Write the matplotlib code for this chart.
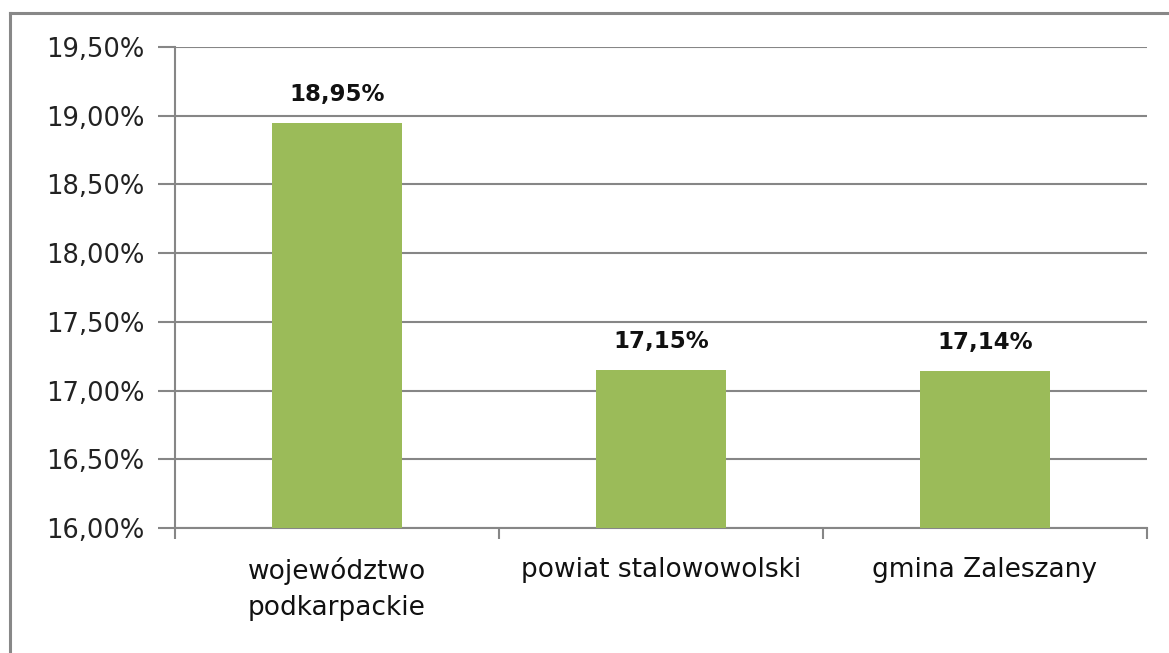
import matplotlib

matplotlib.use("Agg")
import matplotlib.pyplot as plt
from matplotlib.lines import Line2D
from matplotlib.ticker import FuncFormatter, MultipleLocator

plt.rcParams["font.family"] = ["DejaVu Sans"]

categories = ["województwo\npodkarpackie", "powiat stalowowolski", "gmina Zaleszany"]
values = [18.95, 17.15, 17.14]
value_labels = ["18,95%", "17,15%", "17,14%"]

_GRID = "#868686"
_GREEN = "#9bbb59"

fig = plt.figure(figsize=(11.69, 6.53), dpi=100)
ax = fig.add_axes([175 / 1169, 1 - 528 / 653, (1147 - 175) / 1169, (528 - 47) / 653])

x = list(range(len(categories)))
ax.bar(x, [v - 16.0 for v in values], bottom=16.0, width=0.4, color=_GREEN, zorder=3)
for xi, v, lab in zip(x, values, value_labels):
    ax.text(xi, v + 0.16, lab, ha="center", va="baseline", fontsize=16.5,
            fontweight="bold", color="#111111")

ax.set_xlim(-0.5, len(categories) - 0.5)
ax.set_ylim(16.0, 19.5)
ax.yaxis.set_major_locator(MultipleLocator(0.5))
ax.yaxis.set_major_formatter(FuncFormatter(lambda v, _: f"{v:.2f}%".replace(".", ",")))
ax.grid(axis="y", color=_GRID, linewidth=1.5, zorder=0)

ax.set_xticks([-0.5, 0.5, 1.5, 2.5], minor=False)
ax.set_xticklabels([])
ax.set_xticks(x, minor=True)
ax.set_xticklabels(categories, minor=True, fontsize=19, color="#111111", linespacing=1.5)
ax.tick_params(axis="x", which="minor", length=0, pad=21)
ax.tick_params(axis="x", which="major", length=8, width=1.5, color=_GRID)
ax.tick_params(axis="y", length=12, width=1.5, color=_GRID, labelsize=18.5,
               labelcolor="#222222", pad=10)

for side in ("top", "right"):
    ax.spines[side].set_visible(False)
for side in ("left", "bottom"):
    ax.spines[side].set_color(_GRID)
    ax.spines[side].set_linewidth(1.5)

# outer chart frame (only top and left edges visible in the crop)
fig.add_artist(Line2D([10 / 1169, 1.0], [1 - 13 / 653] * 2, transform=fig.transFigure,
                      color="#888888", linewidth=2.2))
fig.add_artist(Line2D([10 / 1169] * 2, [0.0, 1 - 13 / 653], transform=fig.transFigure,
                      color="#888888", linewidth=2.2))

fig.savefig("out.png", dpi=100)
